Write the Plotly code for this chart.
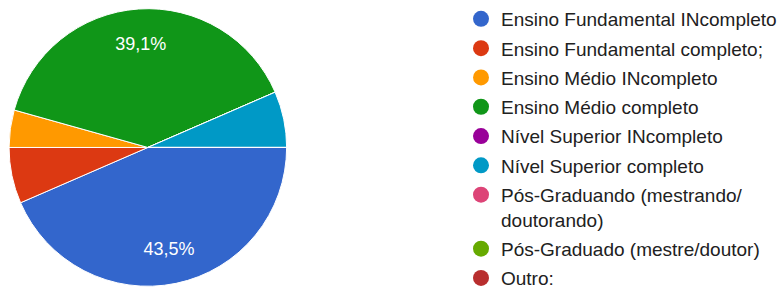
import plotly.graph_objects as go

categories = [
    "Ensino Fundamental INcompleto",
    "Ensino Fundamental completo;",
    "Ensino Médio INcompleto",
    "Ensino Médio completo",
    "Nível Superior INcompleto",
    "Nível Superior completo",
    "Pós-Graduando (mestrando/<br>doutorando)",
    "Pós-Graduado (mestre/doutor)",
    "Outro:",
]
counts = [20, 3, 2, 18, 0, 3, 0, 0, 0]
colors = ["#3366CC", "#DC3912", "#FF9900", "#109618", "#990099",
          "#0099C6", "#DD4477", "#66AA00", "#B82E2E"]

total = sum(counts)
templates = ["%{percent:.1%}" if c / total >= 0.1 else "" for c in counts]

pie_domain = dict(x=[0.0116, 0.367], y=[0.0155, 0.971])

fig = go.Figure()
# slices
fig.add_trace(go.Pie(
    labels=categories,
    values=counts,
    marker=dict(colors=colors, line=dict(color="white", width=1)),
    sort=False,
    direction="clockwise",
    rotation=90,
    textinfo="none",
    showlegend=False,
    hoverinfo="label+percent",
    domain=pie_domain,
))
# transparent ring carrying the percentage labels (places them further out)
fig.add_trace(go.Pie(
    labels=categories,
    values=counts,
    hole=0.5,
    marker=dict(colors=["rgba(0,0,0,0)"] * len(counts), line=dict(width=0)),
    sort=False,
    direction="clockwise",
    rotation=90,
    texttemplate=templates,
    textposition="inside",
    insidetextorientation="horizontal",
    insidetextfont=dict(color="white", size=18, family="Arial, Liberation Sans"),
    showlegend=False,
    hoverinfo="skip",
    domain=pie_domain,
))

for i, (name, col) in enumerate(zip(categories, colors)):
    fig.add_trace(go.Scatter(
        x=[None], y=[None], mode="markers", name=name,
        marker=dict(color=col, size=16, symbol="circle"),
        legendgroup=str(i), showlegend=True,
    ))

fig.update_layout(
    width=782, height=291,
    margin=dict(l=0, r=0, t=0, b=0),
    paper_bgcolor="white", plot_bgcolor="white",
    separators=",.",
    xaxis=dict(visible=False), yaxis=dict(visible=False),
    legend=dict(
        x=0.59, y=1.0, xanchor="left", yanchor="top",
        font=dict(size=19, color="#212121", family="Arial, Liberation Sans"),
        tracegroupgap=1.6, valign="top", bgcolor="rgba(0,0,0,0)",
        maxheight=400,
    ),
)

fig.write_html("out.html", config={"displayModeBar": False},
               post_script="document.body.style.margin='0';")
